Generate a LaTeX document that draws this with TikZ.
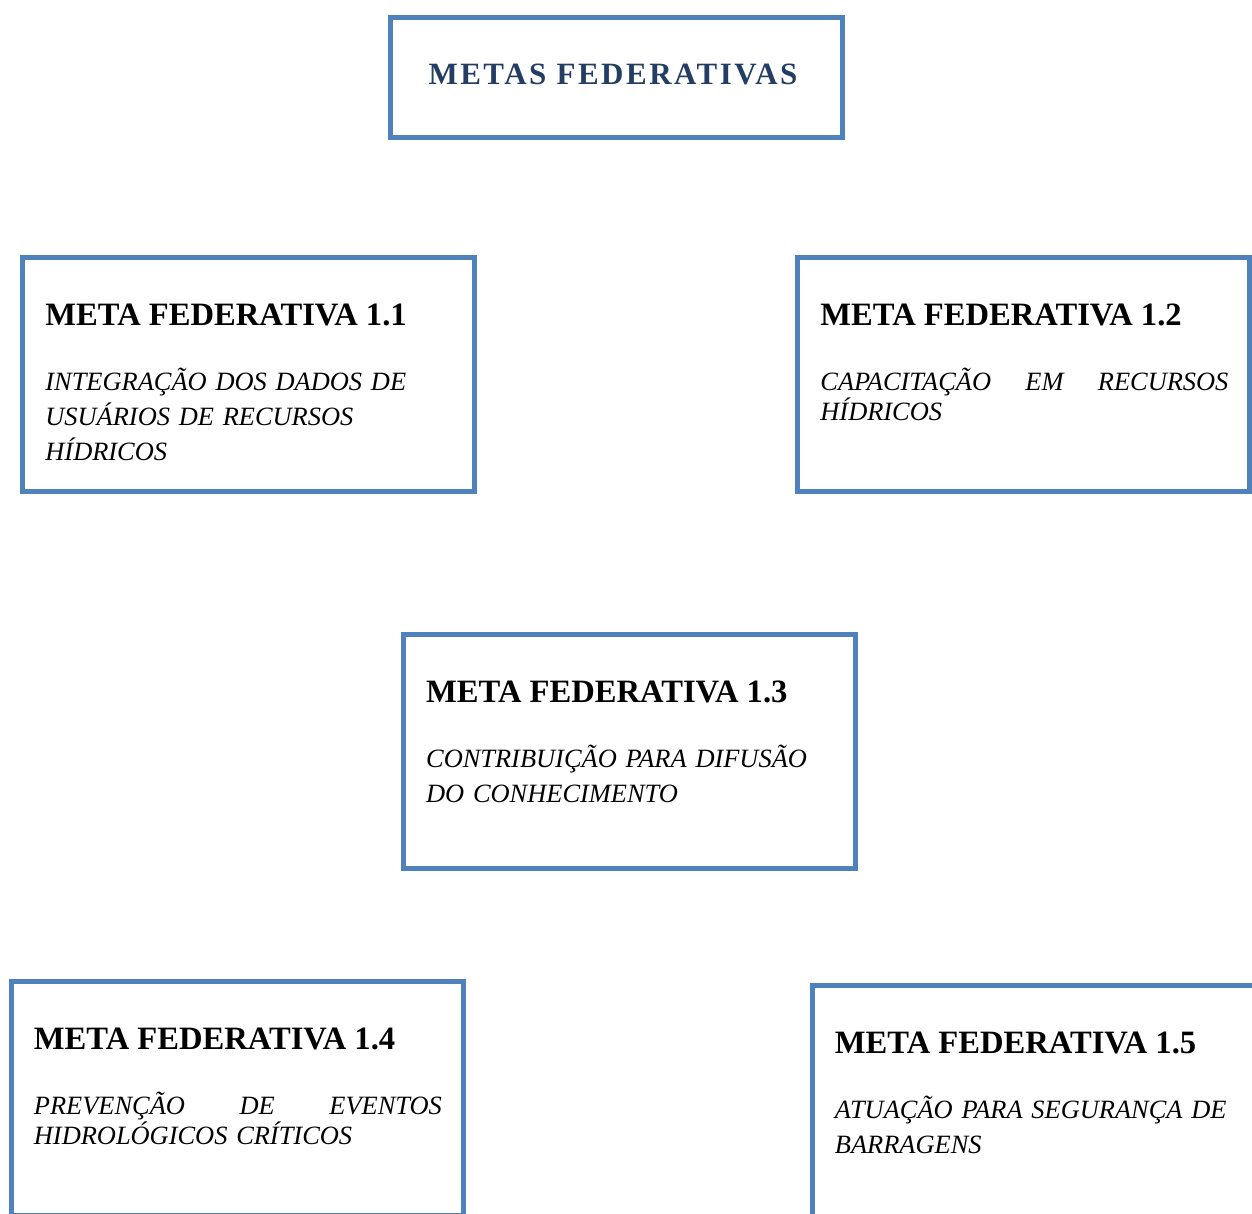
\documentclass[tikz,border=0pt]{standalone}
\usepackage{fontspec}
\setmainfont{Liberation Serif}
\definecolor{metaborder}{RGB}{79,129,189}
\definecolor{metatitle}{RGB}{36,62,99}

\begin{document}
\begin{tikzpicture}[x=0.5pt, y=-0.5pt,
  metabox/.style={draw=metaborder, line width=2.5pt, minimum width=226pt, minimum height=117pt, inner sep=0pt, outer sep=0pt},
  metahead/.style={anchor=base west, inner sep=0pt, font=\fontsize{16.3pt}{19pt}\selectfont\bfseries},
  metatext/.style={anchor=base west, inner sep=0pt, text width=204pt, align=left, font=\fontsize{13.2pt}{17.5pt}\selectfont\itshape},
  metatight/.style={metatext, font=\fontsize{13.2pt}{15pt}\selectfont\itshape}]
\useasboundingbox (0,0) rectangle (1252,1214);
\clip (0,0) rectangle (1252,1214);

\node[metabox, minimum height=60pt] (metas) at (616,77.5) {};
\node[anchor=base, inner sep=0pt, text=metatitle, font=\fontsize{15.5pt}{18pt}\selectfont\bfseries\addfontfeature{LetterSpace=8}] (metastitle) at (613,84.5) {METAS FEDERATIVAS};

\node[metabox] (m11) at (248.5,374.75) {};
\node[metahead] (m11head) at ([shift={(22.5,68)}]m11.north west) {META FEDERATIVA 1.1};
\node[metatext] (m11text) at ([shift={(22.5,133)}]m11.north west) {INTEGRAÇÃO DOS DADOS DE\\USUÁRIOS DE RECURSOS\\HÍDRICOS};

\node[metabox] (m12) at (1023.5,374.75) {};
\node[metahead] (m12head) at ([shift={(22.5,68)}]m12.north west) {META FEDERATIVA 1.2};
\node[metatight] (m12text) at ([shift={(22.5,133)}]m12.north west) {CAPACITAÇÃO\hfill EM\hfill RECURSOS\\HÍDRICOS};

\node[metabox] (m13) at (629.25,751.5) {};
\node[metahead] (m13head) at ([shift={(22.5,68)}]m13.north west) {META FEDERATIVA 1.3};
\node[metatext] (m13text) at ([shift={(22.5,133)}]m13.north west) {CONTRIBUIÇÃO PARA DIFUSÃO\\DO CONHECIMENTO};

\node[metabox] (m14) at (237,1098) {};
\node[metahead] (m14head) at ([shift={(22.5,68)}]m14.north west) {META FEDERATIVA 1.4};
\node[metatight] (m14text) at ([shift={(22.5,133)}]m14.north west) {PREVENÇÃO\hfill DE\hfill EVENTOS\\HIDROLÓGICOS CRÍTICOS};

\node[metabox] (m15) at (1038,1102) {};
\node[metahead] (m15head) at ([shift={(22.5,68)}]m15.north west) {META FEDERATIVA 1.5};
\node[metatext] (m15text) at ([shift={(22.5,133)}]m15.north west) {ATUAÇÃO PARA SEGURANÇA DE\\BARRAGENS};
\end{tikzpicture}
\end{document}
